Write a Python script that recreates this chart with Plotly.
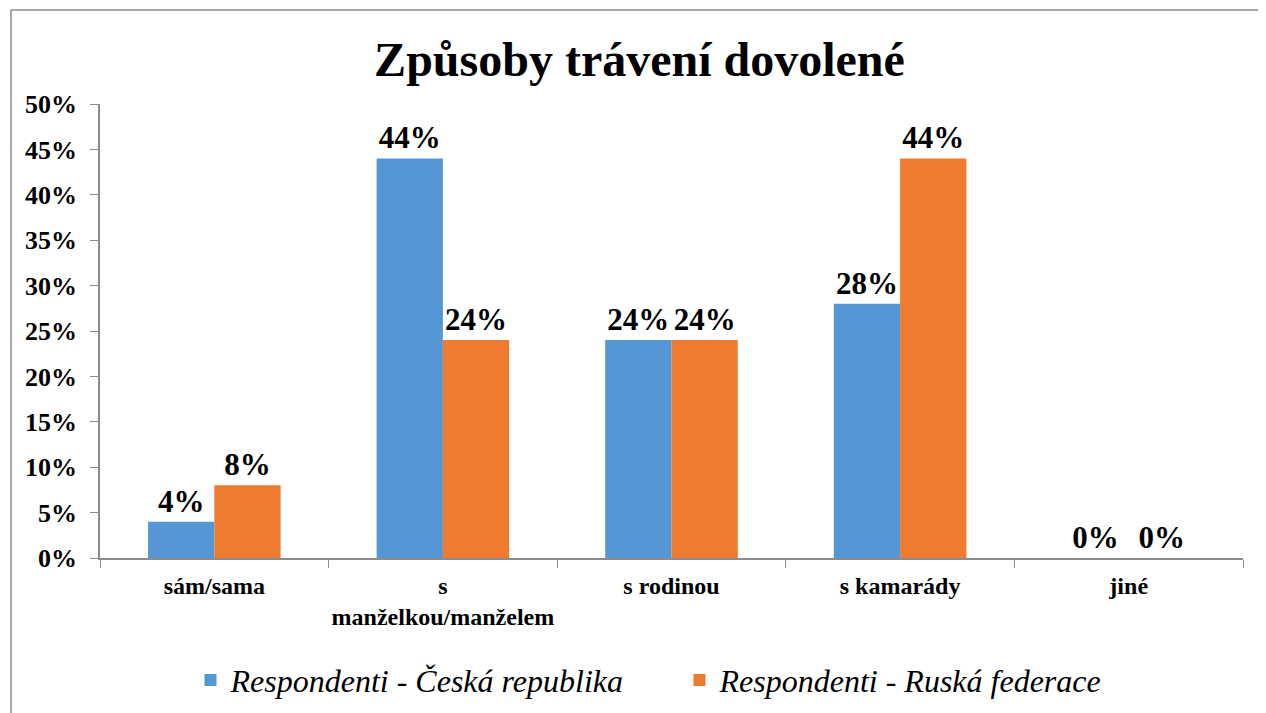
import plotly.graph_objects as go

categories = ["sám/sama", "s<br>manželkou/manželem", "s rodinou", "s kamarády", "jiné"]
cz_values = [4, 44, 24, 28, 0]
ru_values = [8, 24, 24, 44, 0]
series_names = ["Respondenti - Česká republika", "Respondenti - Ruská federace"]
tick_vals = [0, 5, 10, 15, 20, 25, 30, 35, 40, 45, 50]
tick_text = [f"{v}%" for v in tick_vals]

serif = "Liberation Serif, Times New Roman, serif"

fig = go.Figure()
fig.add_trace(go.Bar(
    x=categories, y=cz_values, name=series_names[0],
    marker=dict(color="#5597d4", line=dict(width=0)),
    text=[f"{v}%" for v in cz_values], textposition="outside",
    textfont=dict(family=serif, size=31, color="black", weight="bold"),
    cliponaxis=False,
))
fig.add_trace(go.Bar(
    x=categories, y=ru_values, name=series_names[1],
    marker=dict(color="#ef7b30", line=dict(width=0)),
    text=[f"{v}%" for v in ru_values], textposition="outside",
    textfont=dict(family=serif, size=31, color="black", weight="bold"),
    cliponaxis=False,
))

fig.update_layout(
    width=1266, height=713,
    margin=dict(l=92, r=31, t=96, b=163, autoexpand=False),
    paper_bgcolor="white", plot_bgcolor="white",
    barmode="group", bargap=0.42, bargroupgap=0,
    title=dict(text="<b>Způsoby trávení dovolené</b>", x=0.472, xref="paper", xanchor="center",
               y=1 - 51 / 713, yref="container", yanchor="middle",
               font=dict(family=serif, size=48, color="black")),
    showlegend=True,
    legend=dict(orientation="h", x=0.507, xanchor="center", y=-0.269, yanchor="middle",
                font=dict(family=serif, size=32, color="black", style="italic"),
                entrywidth=444, entrywidthmode="pixels", itemsizing="constant"),
)
fig.update_xaxes(
    showline=True, linecolor="#8c8c8c", linewidth=1.5,
    ticks="outside", ticklen=8, tickcolor="#8c8c8c", tickson="boundaries",
    ticklabelstandoff=5, tickangle=0,
    tickfont=dict(family=serif, size=24, color="black", weight="bold"),
    showgrid=False, zeroline=False, automargin=False,
)
fig.update_yaxes(
    range=[0, 50], tickvals=tick_vals, ticktext=tick_text,
    showline=True, linecolor="#8c8c8c", linewidth=1.5,
    ticks="outside", ticklen=8, tickcolor="#8c8c8c", ticklabelstandoff=8,
    tickfont=dict(family=serif, size=26, color="black", weight="bold"),
    showgrid=False, zeroline=False, automargin=False,
)

# outer chart frame (top and left edges visible)
fig.add_shape(type="line", xref="paper", yref="paper", x0=-0.0779, x1=-0.0779, y0=-0.4, y1=1.207,
              line=dict(color="#8c8c8c", width=1.5))
fig.add_shape(type="line", xref="paper", yref="paper", x0=-0.0779, x1=1.04, y0=1.207, y1=1.207,
              line=dict(color="#8c8c8c", width=1.5))

fig.write_html("out.html")
